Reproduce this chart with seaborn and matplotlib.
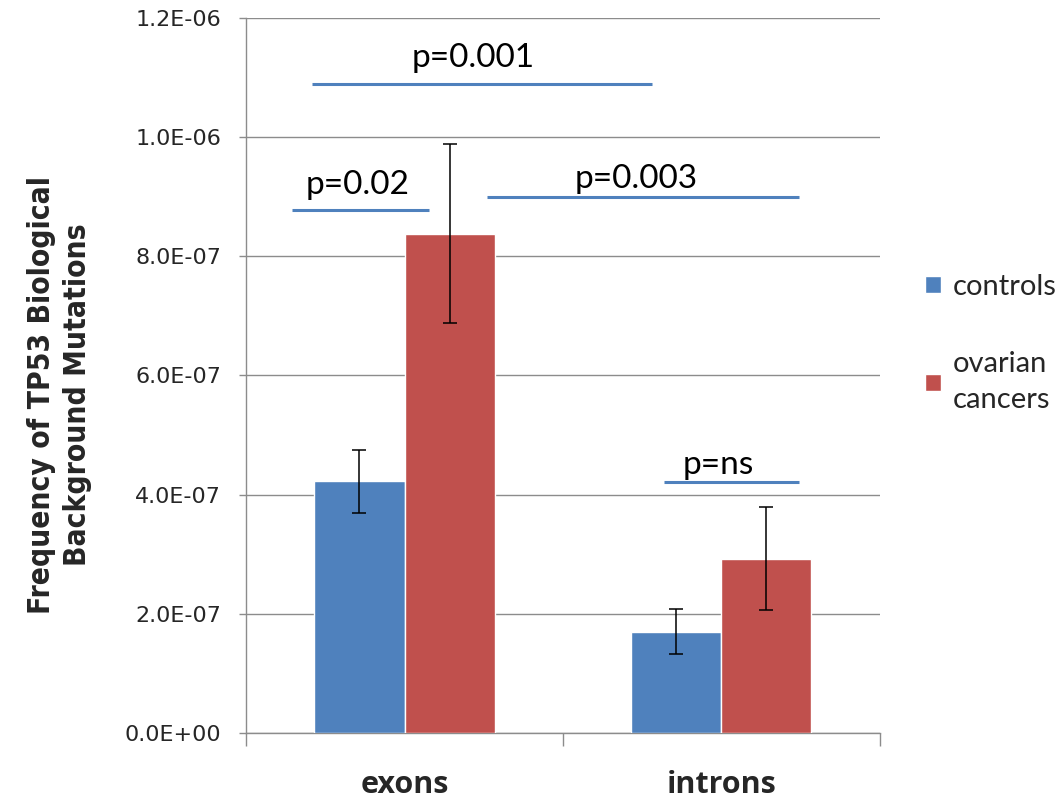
import matplotlib
matplotlib.use("Agg")
import matplotlib.pyplot as plt
import matplotlib.ticker as mticker
import seaborn as sns
import pandas as pd
import numpy as np

regions = ["exons", "introns"]
groups = ["controls", "ovarian\ncancers"]
controls_vals = [4.22e-7, 1.70e-7]
cancer_vals = [8.38e-7, 2.925e-7]
controls_err = [0.53e-7, 0.375e-7]
cancer_err = [1.50e-7, 0.86e-7]

# significance annotations: (x_start, x_end, y, label)
sig_x0 = [-0.292, -0.355, 0.260, 0.818]
sig_x1 = [0.781, 0.077, 1.247, 1.247]
sig_y = [1.089e-6, 8.78e-7, 9.0e-7, 4.21e-7]
sig_labels = ["p=0.001", "p=0.02", "p=0.003", "p=ns"]

df = pd.DataFrame({
    "region": regions * 2,
    "group": [groups[0]] * 2 + [groups[1]] * 2,
    "value": controls_vals + cancer_vals,
    "err": controls_err + cancer_err,
})

sns.set_theme(style="white")
plt.rcParams['font.family'] = ['DejaVu Sans']

fig = plt.figure(figsize=(10.61, 8), dpi=100)
ax = fig.add_axes([0.232, 0.084, 0.597, 0.8935])

palette = {groups[0]: "#4F81BD", groups[1]: "#C0504D"}
sns.barplot(data=df, x="region", y="value", hue="group", palette=palette,
            errorbar=None, width=0.57, saturation=1, ax=ax, zorder=3)

# error bars at bar centres
for (gi, g) in enumerate(groups):
    for ri, r in enumerate(regions):
        row = df[(df.region == r) & (df.group == g)].iloc[0]
        patch = ax.patches[gi * len(regions) + ri]
        xc = patch.get_x() + patch.get_width() / 2
        ax.errorbar(xc, row.value, yerr=row.err, fmt="none", ecolor="black",
                    elinewidth=1.1, capsize=4.7, capthick=1.1, zorder=4)

ax.set_xlim(-0.5, 1.5)
ax.set_ylim(0, 1.2e-6)
ax.yaxis.set_major_locator(mticker.MultipleLocator(2e-7))
ax.yaxis.set_major_formatter(mticker.FormatStrFormatter("%.1E"))
ax.grid(axis="y", color="#8c8c8c", linewidth=1, zorder=0)
ax.set_axisbelow(True)

for s in ["top", "right"]:
    ax.spines[s].set_visible(False)
for s in ["left", "bottom"]:
    ax.spines[s].set_color("#8c8c8c")
    ax.spines[s].set_linewidth(1)

ax.tick_params(axis="y", which="major", direction="out", length=5, width=1,
               color="#8c8c8c", left=True, labelsize=16, pad=13)
ax.set_xticks([-0.5, 0.5, 1.5], minor=True)
ax.tick_params(axis="x", which="minor", direction="out", length=9, width=1,
               color="#8c8c8c", bottom=True)
ax.tick_params(axis="x", which="major", length=0, pad=27)
for lab in ax.get_xticklabels():
    lab.set_fontsize(22)
    lab.set_fontweight("bold")
    lab.set_fontfamily(["Open Sans", "DejaVu Sans"])

ax.set_xlabel("")
ax.set_ylabel("Frequency of TP53 Biological\nBackground Mutations",
              fontsize=21.5, fontweight="bold", fontstretch="condensed",
              fontfamily=["DejaVu Sans"], linespacing=1.3)
ax.yaxis.set_label_coords(-0.243, 0.473)

for x0, x1, y, lab in zip(sig_x0, sig_x1, sig_y, sig_labels):
    ax.plot([x0, x1], [y, y], color="#4F81BD", linewidth=2.2, zorder=5,
            solid_capstyle="butt")

label_x = [0.218, -0.149, 0.731, 0.99]
label_y = [1.133e-6, 9.2e-7, 9.3e-7, 4.5e-7]
for lx, ly, lab in zip(label_x, label_y, sig_labels):
    ax.text(lx, ly, lab, ha="center", va="center", fontsize=24,
            fontfamily=["Lato", "DejaVu Sans"], color="black", zorder=6)

leg = ax.legend(loc="upper left", bbox_to_anchor=(1.072, 0.642), frameon=False,
                fontsize=21, handlelength=0.55, handleheight=0.55,
                handletextpad=0.4, labelspacing=1.75, borderaxespad=0,
                borderpad=0)
for t in leg.get_texts():
    t.set_fontfamily(["Lato", "DejaVu Sans"])
    t.set_linespacing(1.5)

fig.savefig("out.png", dpi=100)
